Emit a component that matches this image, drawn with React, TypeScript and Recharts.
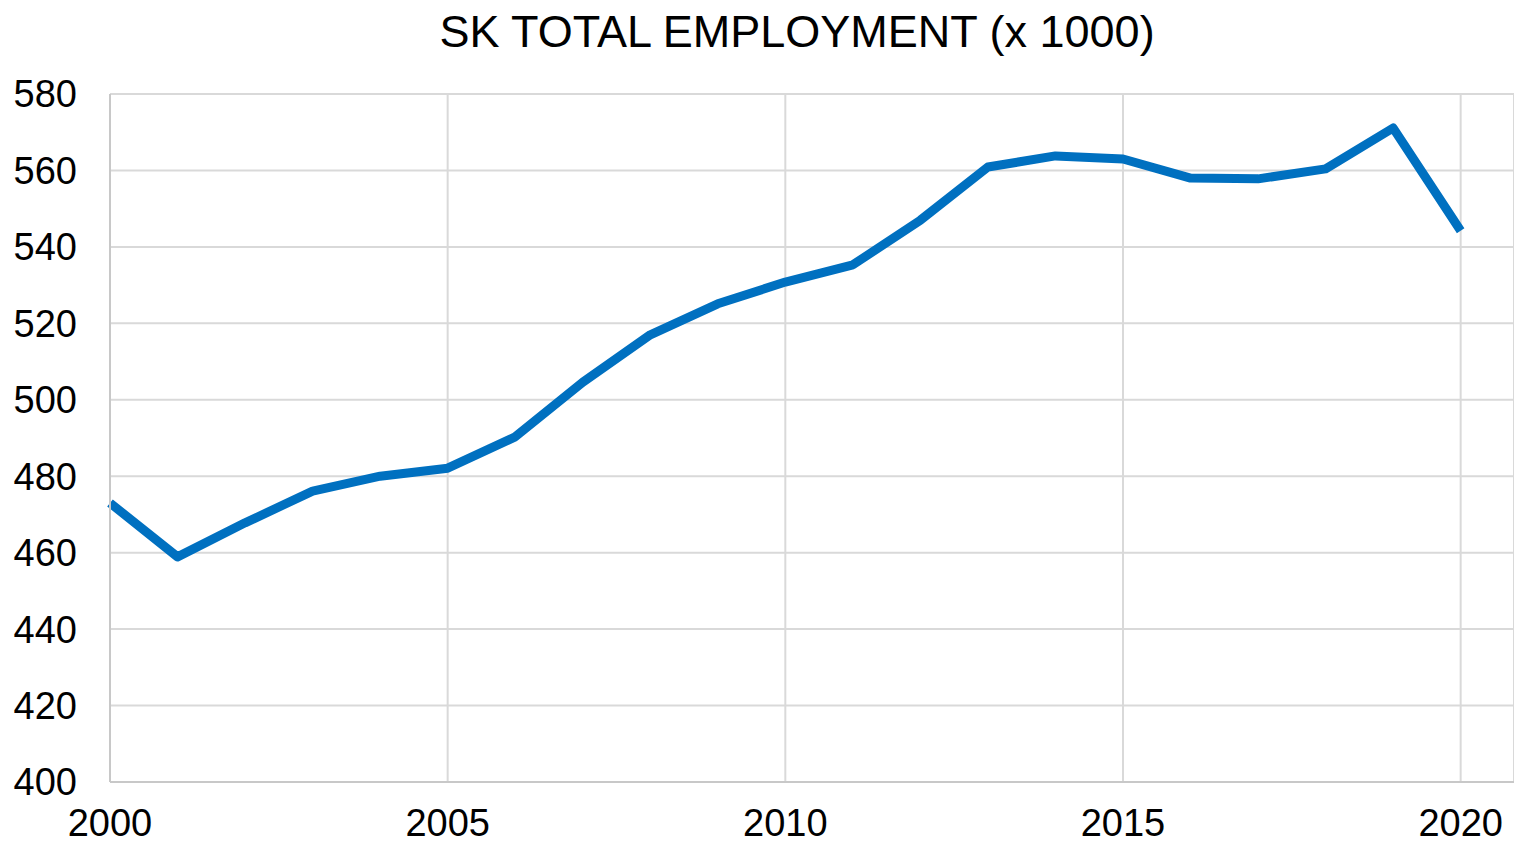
import { CartesianGrid, Line, LineChart, XAxis, YAxis } from "recharts";

const years = [2000, 2001, 2002, 2003, 2004, 2005, 2006, 2007, 2008, 2009, 2010, 2011, 2012, 2013, 2014, 2015, 2016, 2017, 2018, 2019, 2020];
const employment = [473, 458.9, 467.8, 476.1, 480, 482.1, 490.3, 504.6, 517, 525.1, 530.8, 535.3, 547, 560.9, 563.8, 563, 558, 557.8, 560.4, 571.1, 544.2];
const xTicks = [2000, 2005, 2010, 2015, 2020];
const yTicks = [400, 420, 440, 460, 480, 500, 520, 540, 560, 580];

const data = years.map((year, i) => ({ year, value: employment[i] }));

const font = '"Liberation Sans", Arial, sans-serif';

export default function App() {
  return (
    <div style={{ position: "absolute", top: 0, left: 0, width: 1514, height: 844, background: "#fff", fontFamily: font }}>
      <div
        style={{
          position: "absolute",
          top: 8,
          left: 797,
          transform: "translateX(-50%)",
          fontSize: 45,
          lineHeight: "48px",
          whiteSpace: "nowrap",
          color: "#000",
        }}
      >
        SK TOTAL EMPLOYMENT (x 1000)
      </div>
      <LineChart width={1514} height={844} data={data} margin={{ top: 94, right: 0, bottom: 0, left: 0 }}>
        <CartesianGrid stroke="#d9d9d9" strokeWidth={2} />
        <XAxis
          dataKey="year"
          type="number"
          domain={[2000, 2020.79]}
          ticks={xTicks}
          height={62}
          tickLine={false}
          tickSize={0}
          tickMargin={27}
          axisLine={{ stroke: "#c8c8c8", strokeWidth: 2 }}
          tick={{ fill: "#000", fontSize: 38, fontFamily: font }}
          interval={0}
        />
        <YAxis
          type="number"
          domain={[400, 580]}
          ticks={yTicks}
          width={110}
          tickLine={false}
          tickSize={0}
          tickMargin={33}
          axisLine={{ stroke: "#c8c8c8", strokeWidth: 2 }}
          tick={{ fill: "#000", fontSize: 38, fontFamily: font }}
          interval={0}
        />
        <Line
          dataKey="value"
          type="linear"
          stroke="#0070c0"
          strokeWidth={9}
          dot={false}
          strokeLinejoin="round"
          isAnimationActive={false}
        />
      </LineChart>
    </div>
  );
}
